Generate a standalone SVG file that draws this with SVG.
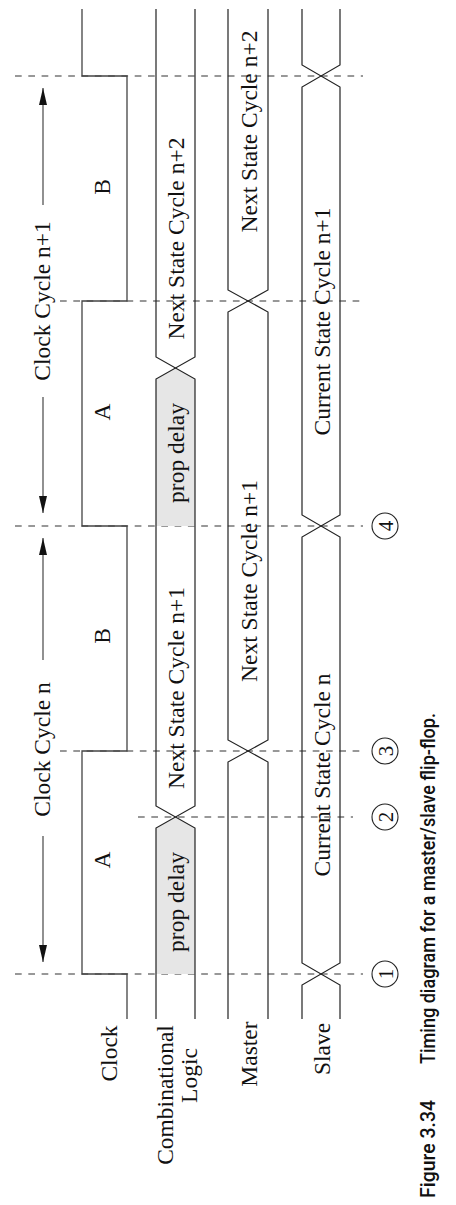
<svg xmlns="http://www.w3.org/2000/svg" width="456" height="1205" viewBox="0 0 456 1205">
<style>
.sig{fill:none;stroke:#222;stroke-width:1.2}
.clk{fill:none;stroke:#444;stroke-width:1.3}
.dash{stroke:#333;stroke-width:1.1;stroke-dasharray:6.7 6.6;fill:none}
.gray{fill:#e6e6e6;stroke:none}
.t{font-family:"Liberation Serif","Times New Roman",serif;font-size:23.5px;fill:#111;text-anchor:middle}
.num{font-family:"Liberation Serif","Times New Roman",serif;font-size:21px;fill:#111;text-anchor:middle}
.circ{fill:none;stroke:#222;stroke-width:1.1}
.arr{stroke:#555;stroke-width:1.3;fill:none}
.cap{font-family:Roboto,"Liberation Sans",Arial,sans-serif;font-weight:500;font-size:20px;fill:#111}
</style>
<defs>
<marker id="ah" markerWidth="17" markerHeight="8" refX="17" refY="4" orient="auto" markerUnits="userSpaceOnUse"><path d="M0,0 L17,4 L0,8 z" fill="#111"/></marker>
</defs>

<g id="connectors">
<line class="dash" x1="15" y1="76" x2="363" y2="76"/>
<line class="dash" x1="60" y1="301" x2="363" y2="301"/>
<line class="dash" x1="15" y1="526" x2="363" y2="526"/>
<line class="dash" x1="60" y1="751" x2="363" y2="751"/>
<line class="dash" x1="138" y1="817" x2="353" y2="817"/>
<line class="dash" x1="15" y1="974" x2="363" y2="974"/>
<line class="arr" x1="43" y1="205" x2="43" y2="88" marker-end="url(#ah)"/>
<line class="arr" x1="43" y1="397" x2="43" y2="513" marker-end="url(#ah)"/>
<line class="arr" x1="43" y1="660" x2="43" y2="538" marker-end="url(#ah)"/>
<line class="arr" x1="43" y1="836" x2="43" y2="962" marker-end="url(#ah)"/>
</g>

<g id="cycle-labels">
<text class="t" transform="translate(49.5,301) rotate(-90)">Clock Cycle n+1</text>
<text class="t" transform="translate(49.5,749.5) rotate(-90)">Clock Cycle n</text>
</g>

<g id="clock">
<path class="clk" d="M82,9 V76 H127 V301 H82 V526 H127 V751 H82 V974 H127 V1019"/>
<text class="t" transform="translate(110,187) rotate(-90)">B</text>
<text class="t" transform="translate(110,412) rotate(-90)">A</text>
<text class="t" transform="translate(110,636) rotate(-90)">B</text>
<text class="t" transform="translate(110,860) rotate(-90)">A</text>
</g>

<g id="comb">
<path class="gray" d="M175.5,368 L195,379 V526 H156 V379 Z"/>
<path class="gray" d="M175.5,817 L195,828 V974 H156 V828 Z"/>
<path class="sig" d="M156,9 V357 L195,379 V806 L156,828 V1019"/>
<path class="sig" d="M195,9 V357 L156,379 V806 L195,828 V1019"/>
<text class="t" transform="translate(184,238.5) rotate(-90)">Next State Cycle n+2</text>
<text class="t" transform="translate(184,453) rotate(-90)">prop delay</text>
<text class="t" transform="translate(184,688) rotate(-90)">Next State Cycle n+1</text>
<text class="t" transform="translate(184,902) rotate(-90)">prop delay</text>
</g>

<g id="master">
<path class="sig" d="M228,9 V290 L268,312 V740 L228,762 V1019"/>
<path class="sig" d="M268,9 V290 L228,312 V740 L268,762 V1019"/>
<text class="t" transform="translate(257,131.5) rotate(-90)">Next State Cycle n+2</text>
<text class="t" transform="translate(257,581) rotate(-90)">Next State Cycle n+1</text>
</g>

<g id="slave">
<path class="sig" d="M302,9 V65 L340,87 V515 L302,537 V963 L340,985 V1019"/>
<path class="sig" d="M340,9 V65 L302,87 V515 L340,537 V963 L302,985 V1019"/>
<text class="t" transform="translate(330,321.5) rotate(-90)">Current State Cycle n+1</text>
<text class="t" transform="translate(330,775) rotate(-90)">Current State Cycle n</text>
</g>

<g id="signal-names">
<text class="t" transform="translate(117,1053.5) rotate(-90)">Clock</text>
<text class="t" transform="translate(173,1095) rotate(-90)">Combinational</text>
<text class="t" transform="translate(197,1075.5) rotate(-90)">Logic</text>
<text class="t" transform="translate(257,1054) rotate(-90)">Master</text>
<text class="t" transform="translate(330,1049) rotate(-90)">Slave</text>
</g>

<g id="marker-1"><circle class="circ" cx="385" cy="974" r="13"/><text class="num" transform="translate(392.5,974) rotate(-90)">1</text></g>
<g id="marker-2"><circle class="circ" cx="385" cy="817" r="13"/><text class="num" transform="translate(392.5,817) rotate(-90)">2</text></g>
<g id="marker-3"><circle class="circ" cx="385" cy="751" r="13"/><text class="num" transform="translate(392.5,751) rotate(-90)">3</text></g>
<g id="marker-4"><circle class="circ" cx="385" cy="526" r="13"/><text class="num" transform="translate(392.5,526) rotate(-90)">4</text></g>

<g id="caption">
<text class="cap" transform="translate(435,1198) rotate(-90)" textLength="98" lengthAdjust="spacingAndGlyphs">Figure 3.34</text>
<text class="cap" transform="translate(435,1064) rotate(-90)" textLength="351" lengthAdjust="spacingAndGlyphs">Timing diagram for a master/slave flip-flop.</text>
</g>
</svg>
